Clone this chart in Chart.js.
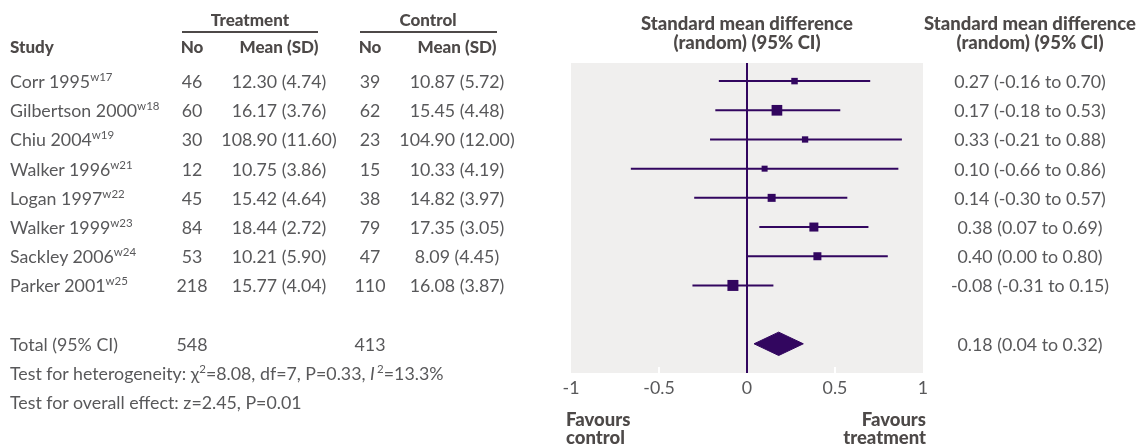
<!DOCTYPE html>
<html>
<head>
<meta charset="utf-8">
<script src="https://cdn.jsdelivr.net/npm/chart.js@4.4.1/dist/chart.umd.min.js"></script>
<style>
  html, body { margin: 0; padding: 0; background: #fff; }
  #wrap { position: relative; width: 1138px; height: 446px; overflow: hidden;
          font-family: 'Lato', 'Open Sans', sans-serif; color: #58585a; }
  #chart-box { position: absolute; left: 0; top: 0; width: 1138px; height: 446px; }
  .t { position: absolute; white-space: nowrap; font-size: 17.8px; line-height: 20px; }
  .c { transform: translate(-50%, -50%); }
  .l { transform: translate(0, -50%); }
  .r { transform: translate(-100%, -50%); }
  .b { font-weight: 900; color: #4d4948; font-size: 17px; }
  .big { font-size: 18.5px; }
  sup { font-size: 11.5px; line-height: 0; vertical-align: 7px; }
  .rule { position: absolute; height: 2px; background: #4d4948; }
</style>
</head>
<body>
<div id="wrap">
  <div id="chart-box"><canvas id="forest"></canvas></div>
</div>
<script>
// study rows
const studies = ['Corr 1995', 'Gilbertson 2000', 'Chiu 2004', 'Walker 1996', 'Logan 1997', 'Walker 1999', 'Sackley 2006', 'Parker 2001'];
const refs = ['w17', 'w18', 'w19', 'w21', 'w22', 'w23', 'w24', 'w25'];
const treatN = [46, 60, 30, 12, 45, 84, 53, 218];
const treatMean = [12.30, 16.17, 108.90, 10.75, 15.42, 18.44, 10.21, 15.77];
const treatSD = [4.74, 3.76, 11.60, 3.86, 4.64, 2.72, 5.90, 4.04];
const ctrlN = [39, 62, 23, 15, 38, 79, 47, 110];
const ctrlMean = [10.87, 15.45, 104.90, 10.33, 14.82, 17.35, 8.09, 16.08];
const ctrlSD = [5.72, 4.48, 12.00, 4.19, 3.97, 3.05, 4.45, 3.87];
const smd = [0.27, 0.17, 0.33, 0.10, 0.14, 0.38, 0.40, -0.08];
const ciLow = [-0.16, -0.18, -0.21, -0.66, -0.30, 0.07, 0.00, -0.31];
const ciHigh = [0.70, 0.53, 0.88, 0.86, 0.57, 0.69, 0.80, 0.15];
// study weights (%), estimated from the square sizes
const weights = [7.5, 20.3, 7.1, 6.4, 11.4, 14.4, 11.4, 21.5];

// pooled result
const totalN = [548, 413];
const totalSmd = 0.18;
const totalLow = 0.04;
const totalHigh = 0.32;

const xTicks = [-1, -0.5, 0, 0.5, 1];

const PURPLE = '#32065f';
const TOTAL_ROW = studies.length + 1;

const fmt = v => v.toFixed(2);

// grey panel behind the plot
const panelBg = {
    id: 'panelBg',
    beforeDraw(chart) {
        const { ctx, chartArea: a } = chart;
        ctx.save();
        ctx.fillStyle = '#f0efee';
        ctx.fillRect(a.left, a.top, a.right - a.left, a.bottom - a.top);
        ctx.restore();
    },
    beforeDatasetsDraw(chart) {
        // small white tick marks inside the panel bottom
        const { ctx, chartArea: a, scales } = chart;
        ctx.save();
        ctx.strokeStyle = '#ffffff';
        ctx.lineWidth = 2;
        xTicks.filter(v => Math.abs(v) === 0.5).forEach(v => {
            const px = scales.x.getPixelForValue(v);
            ctx.beginPath();
            ctx.moveTo(px, a.bottom - 6);
            ctx.lineTo(px, a.bottom);
            ctx.stroke();
        });
        ctx.restore();
    }
};

const datasets = [];

// confidence interval lines
studies.forEach((s, i) => {
    datasets.push({
        label: s + ' CI',
        data: [{ x: ciLow[i], y: i }, { x: ciHigh[i], y: i }],
        borderColor: PURPLE,
        borderWidth: 2,
        pointRadius: 0,
        fill: false
    });
});

// point estimates, square area follows weight
datasets.push({
    label: 'SMD',
    data: smd.map((v, i) => ({ x: v, y: i })),
    showLine: false,
    pointStyle: 'rect',
    pointRadius: weights.map(w => 2.37 * Math.sqrt(w) / Math.SQRT2),
    backgroundColor: PURPLE,
    borderWidth: 0
});

// pooled diamond (upper and lower halves, filled between)
const DH = 0.4;
datasets.push({
    label: 'Total top',
    data: [{ x: totalLow, y: TOTAL_ROW }, { x: totalSmd, y: TOTAL_ROW - DH }, { x: totalHigh, y: TOTAL_ROW }],
    borderColor: PURPLE,
    borderWidth: 1,
    pointRadius: 0,
    tension: 0,
    fill: false
});
datasets.push({
    label: 'Total bottom',
    data: [{ x: totalLow, y: TOTAL_ROW }, { x: totalSmd, y: TOTAL_ROW + DH }, { x: totalHigh, y: TOTAL_ROW }],
    borderColor: PURPLE,
    borderWidth: 1,
    backgroundColor: PURPLE,
    pointRadius: 0,
    tension: 0,
    fill: '-1'
});

const chart = new Chart(document.getElementById('forest').getContext('2d'), {
    type: 'line',
    data: { datasets: datasets },
    options: {
        responsive: true,
        maintainAspectRatio: false,
        animation: false,
        layout: { padding: { left: 571, right: 215, top: 63, bottom: 0 } },
        plugins: { legend: { display: false }, tooltip: { enabled: false } },
        scales: {
            x: {
                type: 'linear',
                min: xTicks[0],
                max: xTicks[xTicks.length - 1],
                afterBuildTicks: scale => { scale.ticks = xTicks.map(v => ({ value: v })); },
                afterFit: scale => { scale.height = 73; },
                border: { display: false },
                grid: {
                    drawTicks: false,
                    lineWidth: 2,
                    color: ctx => (ctx.tick && ctx.tick.value === 0) ? PURPLE : 'rgba(0,0,0,0)'
                },
                ticks: {
                    padding: 5,
                    color: '#58585a',
                    font: { family: 'Lato', size: 17.8 },
                    callback: v => String(v)
                }
            },
            y: {
                type: 'linear',
                display: false,
                reverse: true,
                min: -0.62,
                max: 10
            }
        }
    },
    plugins: [panelBg]
});

// table text, placed on the rows of the chart's y scale
const wrap = document.getElementById('wrap');
function put(html, x, y, align, cls) {
    const el = document.createElement('div');
    el.className = 't ' + align + (cls ? ' ' + cls : '');
    el.style.left = x + 'px';
    el.style.top = y + 'px';
    el.innerHTML = html;
    wrap.appendChild(el);
}
function rule(x1, x2, y) {
    const el = document.createElement('div');
    el.className = 'rule';
    el.style.left = x1 + 'px';
    el.style.top = y + 'px';
    el.style.width = (x2 - x1) + 'px';
    wrap.appendChild(el);
}

const COL = { study: 10, tN: 192, tM: 279, cN: 370, cM: 457, res: 1030 };
const rowY = i => chart.scales.y.getPixelForValue(i);
const plotMid = chart.scales.x.getPixelForValue(0);

// headers
put('Treatment', 250, 20, 'c', 'b');
rule(182, 318, 31);
put('Control', 428, 20, 'c', 'b');
rule(360, 497, 31);
put('Study', COL.study, 47, 'l', 'b');
put('No', COL.tN, 47, 'c', 'b');
put('Mean (SD)', COL.tM, 47, 'c', 'b');
put('No', COL.cN, 47, 'c', 'b');
put('Mean (SD)', COL.cM, 47, 'c', 'b');
put('Standard mean difference', plotMid, 23, 'c', 'b big');
put('(random) (95% CI)', plotMid, 42, 'c', 'b big');
put('Standard mean difference', COL.res, 23, 'c', 'b big');
put('(random) (95% CI)', COL.res, 42, 'c', 'b big');

// study rows
studies.forEach((s, i) => {
    const y = rowY(i);
    put(s + '<sup>' + refs[i] + '</sup>', COL.study, y, 'l');
    put(String(treatN[i]), COL.tN, y, 'c');
    put(fmt(treatMean[i]) + ' (' + fmt(treatSD[i]) + ')', COL.tM, y, 'c');
    put(String(ctrlN[i]), COL.cN, y, 'c');
    put(fmt(ctrlMean[i]) + ' (' + fmt(ctrlSD[i]) + ')', COL.cM, y, 'c');
    put(fmt(smd[i]) + ' (' + fmt(ciLow[i]) + ' to ' + fmt(ciHigh[i]) + ')', COL.res, y, 'c');
});

// total and tests
const yT = rowY(TOTAL_ROW);
put('Total (95% CI)', COL.study, yT, 'l');
put(String(totalN[0]), COL.tN, yT, 'c');
put(String(totalN[1]), COL.cN, yT, 'c');
put(fmt(totalSmd) + ' (' + fmt(totalLow) + ' to ' + fmt(totalHigh) + ')', COL.res, yT, 'c');
put('Test for heterogeneity: &chi;<sup>2</sup>=8.08, df=7, P=0.33, <i>I</i>&thinsp;<sup>2</sup>=13.3%', COL.study, rowY(TOTAL_ROW + 1), 'l');
put('Test for overall effect: z=2.45, P=0.01', COL.study, rowY(TOTAL_ROW + 2), 'l');

// favours labels under the axis
const xl = chart.scales.x.getPixelForValue(xTicks[0]);
const xr = chart.scales.x.getPixelForValue(xTicks[xTicks.length - 1]);
put('Favours', xl - 5, 419, 'l', 'b big');
put('control', xl - 5, 437, 'l', 'b big');
put('Favours', xr + 3, 419, 'r', 'b big');
put('treatment', xr + 3, 437, 'r', 'b big');
</script>
</body>
</html>
